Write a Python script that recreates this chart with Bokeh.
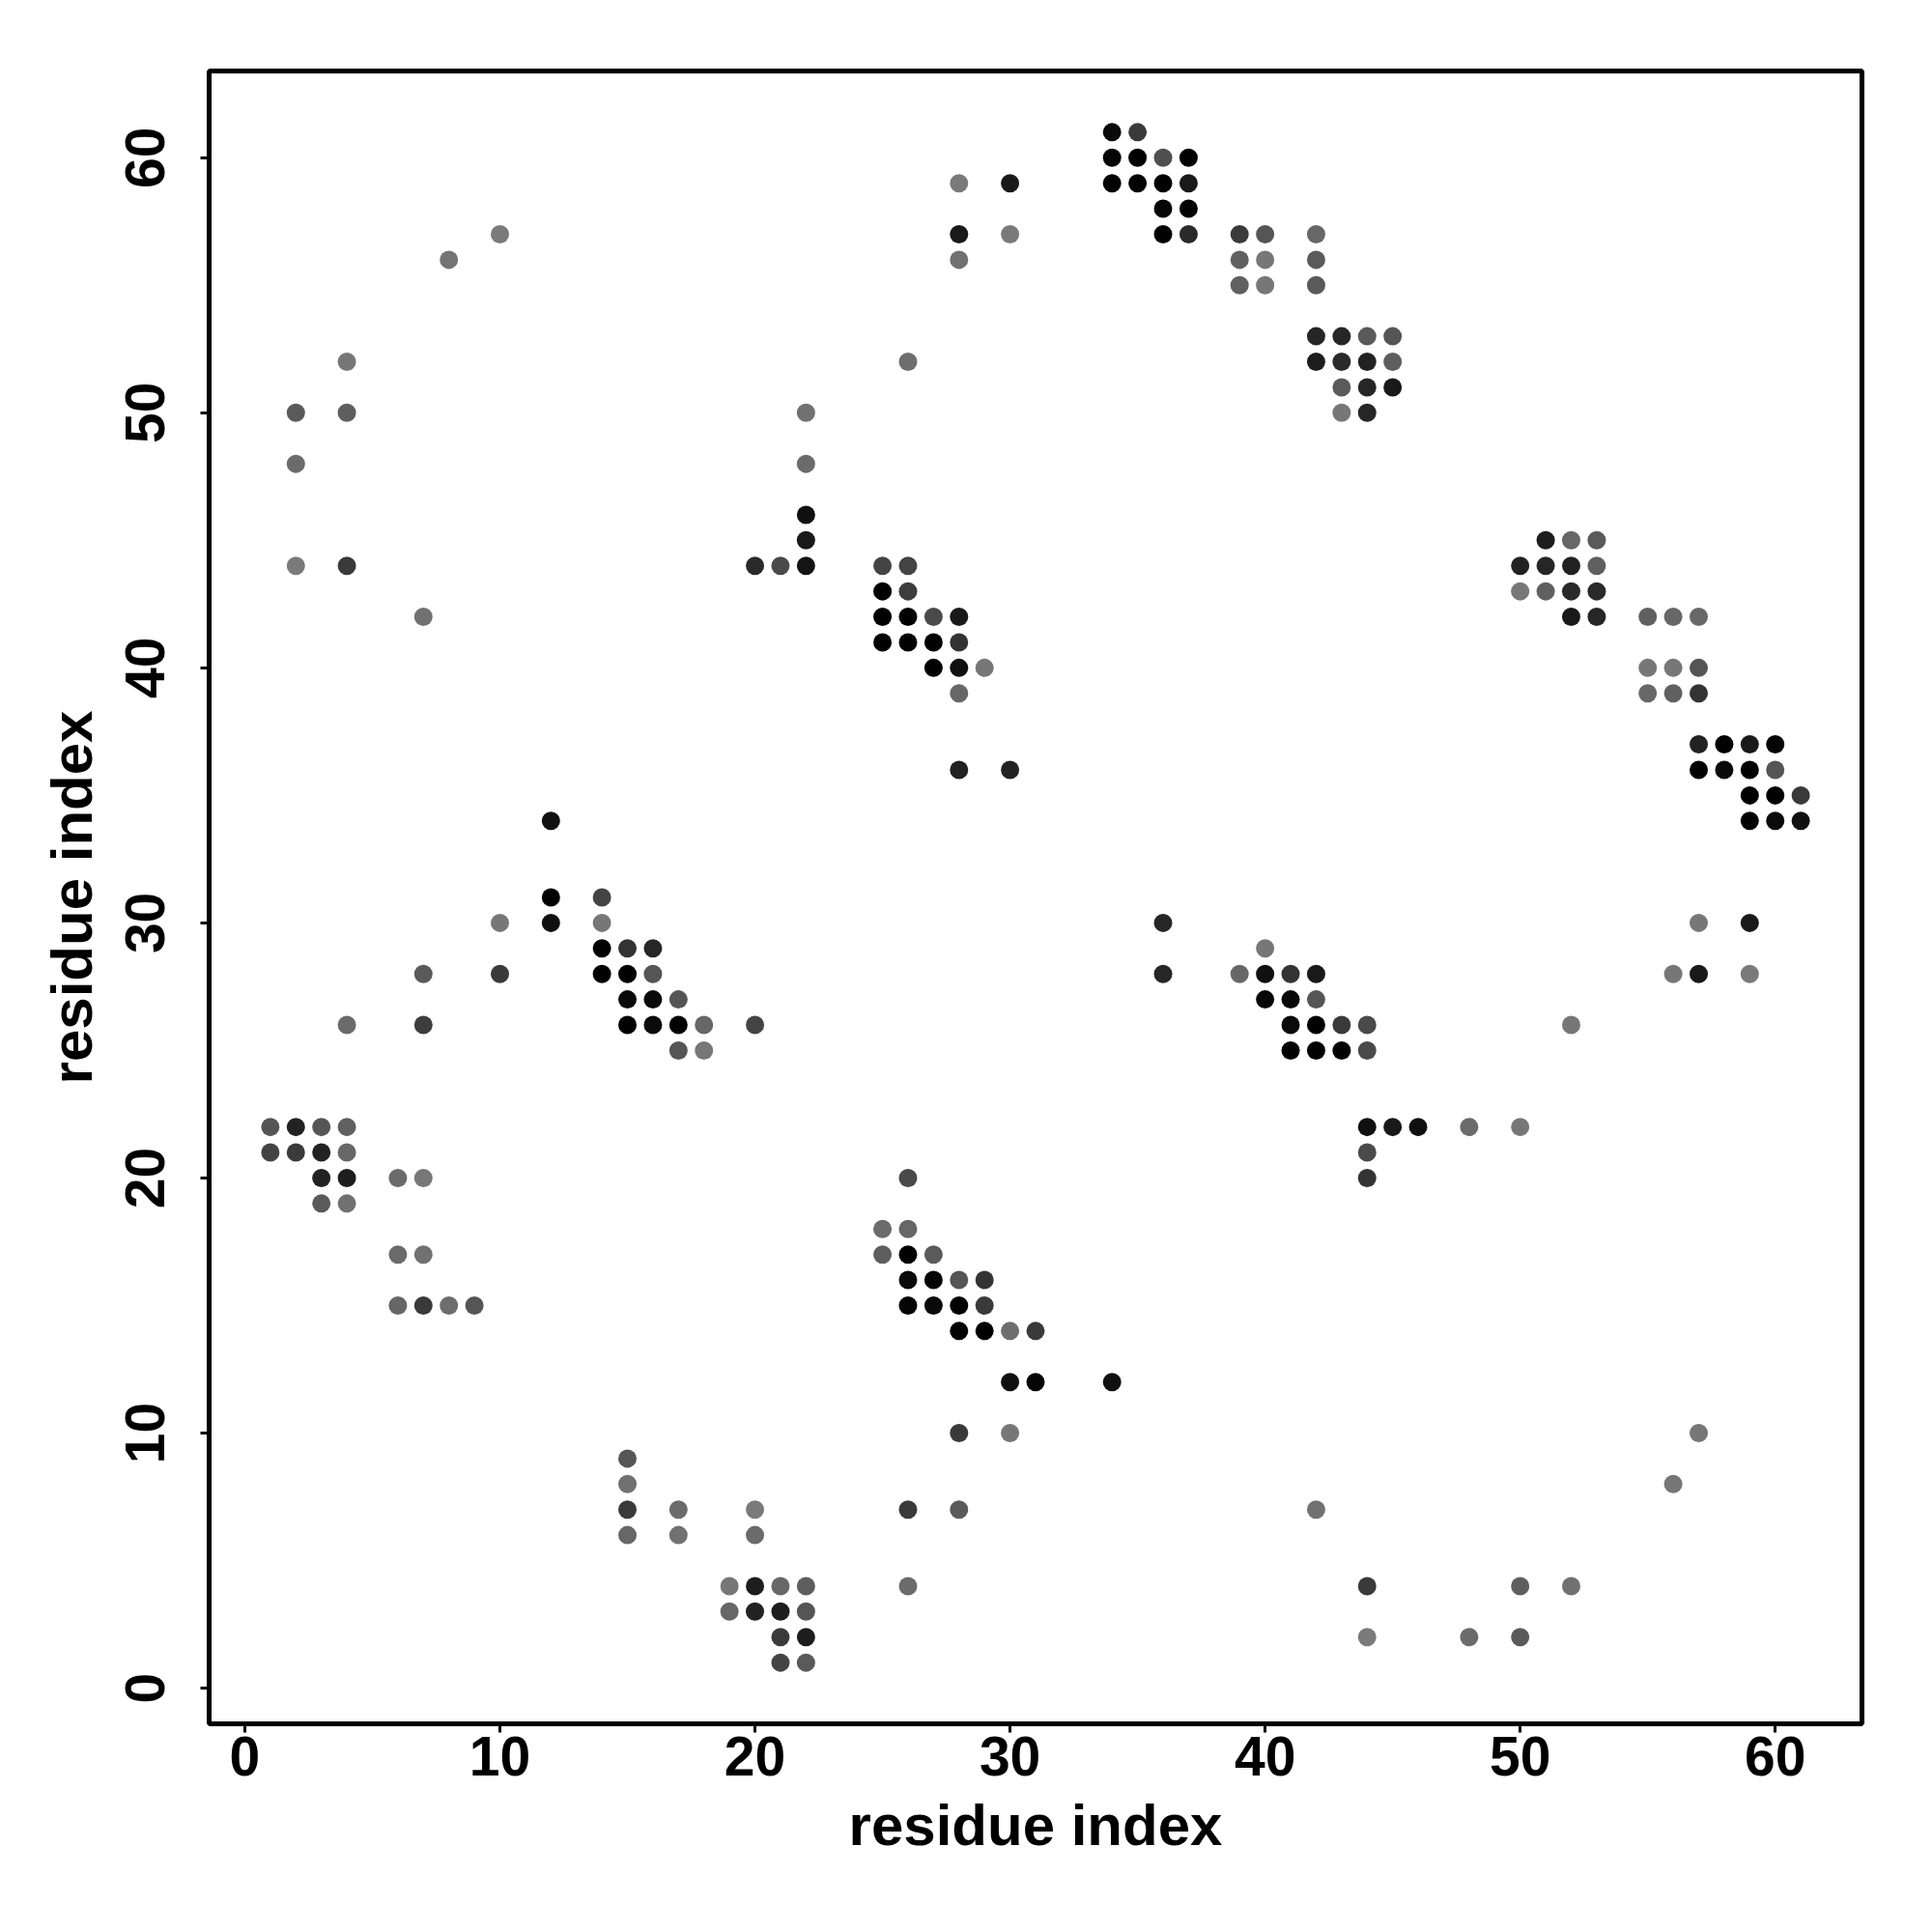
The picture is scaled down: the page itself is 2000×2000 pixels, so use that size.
from bokeh.plotting import figure
from bokeh.models import Range1d, LinearColorMapper, ColumnDataSource, FixedTicker
from bokeh.embed import file_html
from bokeh.resources import INLINE

# residue contact map: residue i (x), residue j (y), contact probability (shade)
residue_i = [
    10, 8, 4, 2, 4, 2, 2, 4, 7,
    20, 21, 22, 22, 22, 22, 22, 26,
    25, 26, 25, 26, 25, 26, 27, 28, 25, 26, 27, 28, 27, 28, 29, 28, 28, 30,
    28, 30, 28, 30, 28,
    34, 35, 34, 35, 36, 37, 34, 35, 36, 37, 36, 37, 36, 37,
    39, 40, 42, 39, 40, 42, 39, 40, 42,
    42, 43, 44, 45, 42, 43, 44, 45, 43, 44, 45, 43, 44,
    51, 52, 53, 50, 51, 52, 53, 50, 51, 52, 53, 52, 53,
    55, 56, 57, 55, 56, 57, 55, 56, 57,
    57, 58, 59, 60, 57, 58, 59, 60, 59, 60, 61, 59, 60, 61,
    57, 59, 56, 57, 59, 52,
    36, 36, 40, 39, 40, 41, 42, 40, 41, 42, 41, 42, 43, 44, 41, 42, 43, 44,
    44, 45, 46, 48, 50, 44, 44,
    12, 12, 14, 10, 12, 14, 14, 15, 16, 7, 10, 14, 15, 16, 15, 16, 17, 4, 7, 15, 16, 17, 18, 20, 17, 18,
    1, 2, 3, 4, 1, 2, 3, 4, 3, 4, 6, 7, 3, 4, 6, 7, 6, 7, 8, 9,
    15, 15, 15, 17, 20, 15, 17, 20, 19, 20, 21, 22, 19, 20, 21, 22, 21, 22, 21, 22,
    26, 25, 26, 25, 26, 27, 26, 27, 28, 29, 26, 27, 28, 29, 28, 29, 30, 31, 30, 31, 34, 28, 30,
    26, 28, 42, 26, 44, 50, 52, 44, 48, 50, 56, 57,
]
residue_j = [
    57, 56, 52, 50, 50, 48, 44, 44, 42,
    44, 44, 44, 45, 46, 48, 50, 52,
    44, 44, 43, 43, 42, 42, 42, 42, 41, 41, 41, 41, 40, 40, 40, 39, 36, 36,
    59, 59, 57, 57, 56,
    61, 61, 60, 60, 60, 60, 59, 59, 59, 59, 58, 58, 57, 57,
    57, 57, 57, 56, 56, 56, 55, 55, 55,
    53, 53, 53, 53, 52, 52, 52, 52, 51, 51, 51, 50, 50,
    45, 45, 45, 44, 44, 44, 44, 43, 43, 43, 43, 42, 42,
    42, 42, 42, 40, 40, 40, 39, 39, 39,
    37, 37, 37, 37, 36, 36, 36, 36, 35, 35, 35, 34, 34, 34,
    30, 30, 28, 28, 28, 26,
    30, 28, 29, 28, 28, 28, 28, 27, 27, 27, 26, 26, 26, 26, 25, 25, 25, 25,
    22, 22, 22, 22, 22, 21, 20,
    34, 31, 31, 30, 30, 30, 29, 29, 29, 28, 28, 28, 28, 28, 27, 27, 27, 26, 26, 26, 26, 26, 26, 26, 25, 25,
    22, 22, 22, 22, 21, 21, 21, 21, 20, 20, 20, 20, 19, 19, 17, 17, 15, 15, 15, 15,
    9, 8, 7, 7, 7, 6, 6, 6, 4, 4, 4, 4, 3, 3, 3, 3, 2, 2, 1, 1,
    20, 18, 18, 17, 17, 17, 16, 16, 16, 16, 15, 15, 15, 15, 14, 14, 14, 14, 12, 12, 12, 10, 10,
    7, 7, 7, 4, 4, 4, 4, 2, 2, 2, 8, 10,
]
contact_prob = [
    0.05, 0.10, 0.07, 0.30, 0.27, 0.17, 0.05, 0.55, 0.12,
    0.67, 0.42, 0.84, 0.80, 0.87, 0.17, 0.12, 0.14,
    0.47, 0.47, 0.98, 0.52, 0.98, 0.98, 0.42, 0.80, 0.98, 0.98, 0.98, 0.60, 0.98, 0.87, 0.07, 0.20, 0.73, 0.73,
    0.05, 0.80, 0.80, 0.05, 0.12,
    0.92, 0.55, 0.96, 0.98, 0.38, 0.98, 0.98, 0.98, 0.98, 0.80, 0.96, 0.98, 0.98, 0.67,
    0.55, 0.34, 0.20, 0.25, 0.07, 0.30, 0.25, 0.07, 0.30,
    0.70, 0.70, 0.30, 0.34, 0.77, 0.67, 0.73, 0.27, 0.30, 0.70, 0.80, 0.07, 0.70,
    0.77, 0.20, 0.30, 0.73, 0.70, 0.73, 0.25, 0.07, 0.25, 0.67, 0.67, 0.80, 0.70,
    0.25, 0.20, 0.20, 0.07, 0.07, 0.34, 0.20, 0.25, 0.60,
    0.73, 0.98, 0.80, 0.96, 0.98, 0.92, 0.98, 0.34, 0.98, 0.98, 0.55, 0.98, 0.92, 0.87,
    0.07, 0.80, 0.07, 0.80, 0.05, 0.07,
    0.70, 0.70, 0.07, 0.20, 0.87, 0.60, 0.80, 0.94, 0.94, 0.34, 0.92, 0.98, 0.55, 0.42, 0.98, 0.98, 0.98, 0.42,
    0.87, 0.80, 0.87, 0.17, 0.07, 0.42, 0.60,
    0.87, 0.98, 0.47, 0.07, 0.87, 0.07, 0.98, 0.60, 0.70, 0.30, 0.55, 0.98, 0.98, 0.34, 0.92, 0.92, 0.34, 0.17, 0.52, 0.98, 0.92, 0.98, 0.20, 0.47, 0.34, 0.07,
    0.34, 0.73, 0.34, 0.25, 0.47, 0.55, 0.73, 0.20, 0.73, 0.77, 0.17, 0.07, 0.30, 0.12, 0.17, 0.12, 0.20, 0.55, 0.14, 0.34,
    0.34, 0.12, 0.55, 0.17, 0.05, 0.20, 0.12, 0.17, 0.07, 0.77, 0.20, 0.27, 0.20, 0.73, 0.77, 0.34, 0.55, 0.77, 0.47, 0.30,
    0.42, 0.17, 0.20, 0.27, 0.98, 0.30, 0.92, 0.96, 0.34, 0.60, 0.96, 0.92, 0.98, 0.55, 0.98, 0.98, 0.14, 0.55, 0.87, 0.96, 0.87, 0.55, 0.07,
    0.55, 0.30, 0.12, 0.17, 0.55, 0.27, 0.12, 0.05, 0.17, 0.30, 0.07, 0.07,
]
tick_values = [0, 10, 20, 30, 40, 50, 60]
axis_title = "residue index"

assert len(residue_i) == len(residue_j) == len(contact_prob)

source = ColumnDataSource(data=dict(i=residue_i, j=residue_j, p=contact_prob))

gray_palette = ["#%02x%02x%02x" % (v, v, v) for v in range(128, -1, -1)]
mapper = LinearColorMapper(palette=gray_palette, low=0.0, high=1.0)

p = figure(
    frame_width=1711, frame_height=1711,
    x_range=Range1d(-1.4, 63.4), y_range=Range1d(-1.4, 63.4),
    output_backend="svg", toolbar_location=None,
    min_border_left=216, min_border_top=73, min_border_right=50, min_border_bottom=190,
    background_fill_color="white", border_fill_color="white",
)

p.scatter(x="i", y="j", source=source, size=19,
          fill_color={"field": "p", "transform": mapper}, line_color=None)

p.xgrid.visible = False
p.ygrid.visible = False
p.outline_line_color = "black"
p.outline_line_width = 5

for ax in (p.xaxis[0], p.yaxis[0]):
    ax.ticker = FixedTicker(ticks=tick_values)
    ax.axis_line_color = None
    ax.major_tick_line_color = "black"
    ax.major_tick_line_width = 3
    ax.major_tick_out = 9
    ax.major_tick_in = 0
    ax.minor_tick_line_color = None
    ax.major_label_text_font = "Liberation Sans"
    ax.major_label_text_font_style = "bold"
    ax.major_label_text_font_size = "57px"
    ax.major_label_text_color = "black"
    ax.axis_label = axis_title
    ax.axis_label_text_font = "Liberation Sans"
    ax.axis_label_text_font_style = "bold"
    ax.axis_label_text_font_size = "60px"
    ax.axis_label_text_color = "black"

p.xaxis.major_label_standoff = 4
p.xaxis.axis_label_standoff = 15
p.yaxis.major_label_orientation = "vertical"
p.yaxis.major_label_standoff = 37
p.yaxis.axis_label_standoff = 20

open("out.html", "w").write(file_html(p, INLINE))
